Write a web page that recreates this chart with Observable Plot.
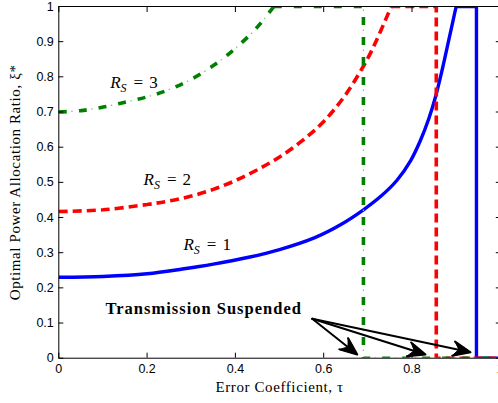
<!DOCTYPE html>
<html><head><meta charset="utf-8">
<script src="https://cdn.jsdelivr.net/npm/d3@7"></script>
<script src="https://cdn.jsdelivr.net/npm/@observablehq/plot@0.6"></script>
<style>body{margin:0;background:#fff;}</style>
</head><body><div id="chart"></div>
<script>
// ---- data ----
const xTicks = [0, 0.2, 0.4, 0.6, 0.8, 1];
const xTickLabels = ["0", "0.2", "0.4", "0.6", "0.8", "1"];
const yTicks = [0, 0.1, 0.2, 0.3, 0.4, 0.5, 0.6, 0.7, 0.8, 0.9, 1];
const yTickLabels = ["0", "0.1", "0.2", "0.3", "0.4", "0.5", "0.6", "0.7", "0.8", "0.9", "1"];

// R_S = 1 (blue, solid)
const blueRiseTau = [0, 0.1, 0.2, 0.28, 0.35, 0.43, 0.50, 0.58, 0.64, 0.69, 0.73, 0.766, 0.797, 0.819, 0.838, 0.853, 0.868, 0.883, 0.893, 0.900];
const blueRiseXi  = [0.230, 0.2325, 0.2400, 0.2535, 0.2675, 0.287, 0.309, 0.343, 0.381, 0.422, 0.461, 0.506, 0.562, 0.619, 0.681, 0.742, 0.818, 0.903, 0.960, 1.0];
const blueStepTau = [0.900, 0.946, 0.946, 1];
const blueStepXi  = [1, 1, 0, 0];

// R_S = 2 (red, dashed)
const redRiseTau = [0, 0.1, 0.2, 0.25, 0.3, 0.35, 0.4, 0.45, 0.5, 0.55, 0.6, 0.65, 0.7, 0.72, 0.74, 0.753];
const redRiseXi  = [0.417, 0.422, 0.437, 0.447, 0.461, 0.480, 0.505, 0.536, 0.572, 0.617, 0.673, 0.750, 0.853, 0.905, 0.962, 1.0];
const redStepTau = [0.753, 0.855, 0.855, 1];
const redStepXi  = [1, 1, 0, 0];

// R_S = 3 (green, dash-dot)
const greenRiseTau = [0, 0.05, 0.1, 0.15, 0.2, 0.25, 0.3, 0.35, 0.4, 0.45, 0.487];
const greenRiseXi  = [0.700, 0.704, 0.714, 0.728, 0.743, 0.764, 0.793, 0.832, 0.881, 0.942, 1.0];
const greenStepTau = [0.487, 0.690, 0.690, 1];
const greenStepXi  = [1, 1, 0, 0];

// curve labels
const rsLabels = ["R_S = 3", "R_S = 2", "R_S = 1"];
const rsTau = [0.1164, 0.192, 0.2824];
const rsXi = [0.784, 0.509, 0.3227];

// annotation
const noteText = ["Transmission Suspended"];
const noteTau = [0.1058];
const noteXi = [0.142];
const arrowTau1 = [0.574, 0.574, 0.574];
const arrowXi1 = [0.112, 0.112, 0.112];
const arrowTau2 = [0.676, 0.8306, 0.9325];
const arrowXi2 = [0.0105, 0.0105, 0.017];

const xTitle = ["Error Coefficient, τ"];
const yTitle = ["Optimal Power Allocation Ratio, ξ*"];

// ---- helpers ----
const rows = (t, v) => t.map((d, i) => ({tau: d, xi: v[i]}));
const blueRise = rows(blueRiseTau, blueRiseXi), blueStep = rows(blueStepTau, blueStepXi);
const redRise = rows(redRiseTau, redRiseXi), redStep = rows(redStepTau, redStepXi);
const greenRise = rows(greenRiseTau, greenRiseXi), greenStep = rows(greenStepTau, greenStepXi);
const labelRows = rsLabels.map((d, i) => ({text: d, tau: rsTau[i], xi: rsXi[i]}));
const noteRows = noteText.map((d, i) => ({text: d, tau: noteTau[i], xi: noteXi[i]}));
const arrowRows = arrowTau1.map((d, i) => ({x1: d, y1: arrowXi1[i], x2: arrowTau2[i], y2: arrowXi2[i]}));

const BLUE = "#0000ff", RED = "#ff0000", GREEN = "#008000", LIGHTGREEN = "#7cc27c";
const serif = "'Liberation Serif', 'Times New Roman', serif";

const lineOpts = (stroke, extra) => Object.assign({x: "tau", y: "xi", stroke, clip: true, strokeLinejoin: "miter", strokeLinecap: "butt"}, extra);

const chart = Plot.plot({
  width: 498,
  height: 403,
  marginLeft: 58.3,
  marginRight: -1.8,
  marginTop: 6,
  marginBottom: 45.3,
  style: {fontFamily: "'Liberation Sans', Arial, sans-serif", fontSize: "12.5px", color: "black", background: "white"},
  x: {domain: [0, 1]},
  y: {domain: [0, 1]},
  marks: [
    // blue
    Plot.line(blueRise, lineOpts(BLUE, {strokeWidth: 3.4, curve: "catmull-rom"})),
    Plot.line(blueStep, lineOpts(BLUE, {strokeWidth: 3.4})),
    // red
    Plot.line(redRise, lineOpts(RED, {strokeWidth: 3.6, curve: "catmull-rom", strokeDasharray: "9,5"})),
    Plot.line(redStep, lineOpts(RED, {strokeWidth: 3.6, strokeDasharray: "9,5"})),
    // green dash-dot
    Plot.line(greenRise, lineOpts(GREEN, {strokeWidth: 3.6, curve: "catmull-rom", strokeDasharray: "8,12"})),
    Plot.line(greenRise, lineOpts(LIGHTGREEN, {strokeWidth: 1.2, curve: "catmull-rom", strokeDasharray: "0,12.5,1.5,6"})),
    Plot.line(greenStep, lineOpts(GREEN, {strokeWidth: 3.6, strokeDasharray: "8,12"})),
    Plot.line(greenStep, lineOpts(LIGHTGREEN, {strokeWidth: 1.2, strokeDasharray: "0,12.5,1.5,6"})),
    // frame and axes (inward ticks, MATLAB style)
    Plot.frame({stroke: "black", strokeWidth: 1}),
    Plot.axisX({ticks: xTicks, tickFormat: d => xTickLabels[xTicks.indexOf(d)], tickSize: -5, tickPadding: 11, label: null}),
    Plot.axisX({anchor: "top", ticks: xTicks, tickFormat: () => "", tickSize: -5, label: null}),
    Plot.axisY({ticks: yTicks, tickFormat: d => yTickLabels[yTicks.indexOf(d)], tickSize: -5, tickPadding: 10, label: null}),
    Plot.axisY({anchor: "right", ticks: yTicks, tickFormat: () => "", tickSize: -5, label: null}),
    // axis titles
    Plot.text(xTitle, {text: d => d, frameAnchor: "bottom", dy: 28.5, fontFamily: serif, fontSize: 15, lineAnchor: "middle", textAnchor: "middle"}),
    Plot.text(yTitle, {text: d => d, frameAnchor: "left", dx: -43.5, rotate: -90, fontFamily: serif, fontSize: 15, lineAnchor: "middle", textAnchor: "middle"}),
    // curve labels
    Plot.text(labelRows, {x: "tau", y: "xi", text: "text", textAnchor: "start", fontFamily: serif, fontSize: 17}),
    // annotation
    Plot.text(noteRows, {x: "tau", y: "xi", text: "text", textAnchor: "start", fontFamily: serif, fontSize: 16.5, fontWeight: "bold"}),
    Plot.arrow(arrowRows, {x1: "x1", y1: "y1", x2: "x2", y2: "y2", stroke: "black", strokeWidth: 2, headLength: 14, headAngle: 45})
  ]
});

// rich text: letter spacing for titles, italic R with subscript S
const svg = d3.select(chart);
svg.selectAll("text").each(function() {
  const t = this.textContent;
  const m = /^R_S = (\d)$/.exec(t);
  if (m) {
    const el = d3.select(this);
    el.text("");
    el.append("tspan").attr("font-style", "italic").text("R");
    el.append("tspan").attr("font-style", "italic").attr("font-size", 12).attr("dy", 4).text("S");
    el.append("tspan").attr("dy", -4).attr("dx", 7).text("=");
    el.append("tspan").attr("dx", 6).text(m[1]);
  } else if (t === xTitle[0] || t === yTitle[0]) {
    d3.select(this).attr("letter-spacing", "0.6px");
  } else if (t === noteText[0]) {
    d3.select(this).attr("letter-spacing", "1px");
  }
});

// fill the arrowheads (MATLAB-style solid heads) from the geometry Plot drew
svg.selectAll("path").each(function() {
  const d = this.getAttribute("d") || "";
  const nums = d.match(/-?\d*\.?\d+(?:e[-+]?\d+)?/gi);
  if (!nums || nums.length !== 10 || !/M.*L.*M.*L.*L/.test(d)) return;
  const n = nums.map(Number);
  const [tx, ty] = [n[2], n[3]];
  const [ax, ay] = [n[4], n[5]];
  const [cx, cy] = [n[8], n[9]];
  const mx = tx + 0.7 * ((ax + cx) / 2 - tx), my = ty + 0.7 * ((ay + cy) / 2 - ty);
  const head = document.createElementNS("http://www.w3.org/2000/svg", "path");
  head.setAttribute("d", `M${ax},${ay}L${tx},${ty}L${cx},${cy}L${mx},${my}Z`);
  head.setAttribute("fill", "black");
  head.setAttribute("stroke", "black");
  head.setAttribute("stroke-width", "1");
  head.setAttribute("stroke-linejoin", "miter");
  this.parentNode.appendChild(head);
});

document.getElementById("chart").appendChild(chart);
</script>
</body></html>
